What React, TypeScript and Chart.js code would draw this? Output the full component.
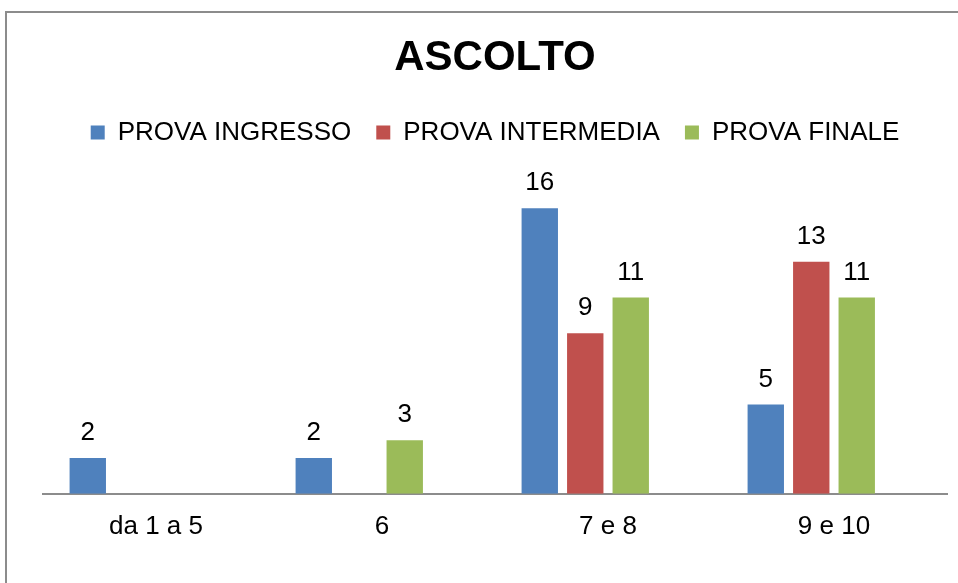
import React, { useEffect, useRef } from "react";
import { Chart, registerables } from "chart.js";

Chart.register(...registerables);

const TITLE = "ASCOLTO";
const CATEGORIES = ["da 1 a 5", "6", "7 e 8", "9 e 10"];
const SERIES_NAMES = ["PROVA INGRESSO", "PROVA INTERMEDIA", "PROVA FINALE"];
const PROVA_INGRESSO: (number | null)[] = [2, 2, 16, 5];
const PROVA_INTERMEDIA: (number | null)[] = [null, null, 9, 13];
const PROVA_FINALE: (number | null)[] = [null, 3, 11, 11];
const EMPTY_SERIES: (number | null)[] = [null, null, null, null];
const COLORS = ["#4F81BD", "#C0504D", "#9BBB59"];
const FONT = "'Liberation Sans', Arial, sans-serif";
const LEGEND_EXTRA_BOTTOM = 17;

const borderPlugin = {
  id: "outerBorder",
  beforeUpdate(chart: any) {
    const legend = chart.legend;
    if (legend && !legend.__patched) {
      const orig = legend.fit;
      legend.fit = function (this: any) {
        orig.call(this);
        this.height += LEGEND_EXTRA_BOTTOM;
      };
      legend.__patched = true;
    }
  },
  beforeDraw(chart: any) {
    const ctx = chart.ctx;
    ctx.save();
    ctx.fillStyle = "#ffffff";
    ctx.fillRect(0, 0, chart.width, chart.height);
    ctx.strokeStyle = "#8c8c8c";
    ctx.lineWidth = 2;
    ctx.strokeRect(6, 12, chart.width + 50, chart.height + 50);
    ctx.restore();
  },
};

const labelPlugin = {
  id: "valueLabels",
  afterDatasetsDraw(chart: any) {
    const ctx = chart.ctx;
    ctx.save();
    ctx.font = `26px ${FONT}`;
    ctx.fillStyle = "#000000";
    ctx.textAlign = "center";
    ctx.textBaseline = "middle";
    chart.data.datasets.forEach((ds: any, i: number) => {
      const meta = chart.getDatasetMeta(i);
      meta.data.forEach((bar: any, j: number) => {
        const v = ds.data[j];
        if (v === null || v === undefined) return;
        ctx.fillText(String(v), bar.x, bar.y - 25);
      });
    });
    ctx.restore();
  },
};

export default function App() {
  const ref = useRef<HTMLCanvasElement>(null);
  useEffect(() => {
    if (!ref.current) return;
    const chart = new Chart(ref.current, {
      type: "bar",
      data: {
        labels: CATEGORIES,
        datasets: [
          { label: SERIES_NAMES[0], data: PROVA_INGRESSO, backgroundColor: COLORS[0] },
          { label: SERIES_NAMES[1], data: PROVA_INTERMEDIA, backgroundColor: COLORS[1] },
          { label: SERIES_NAMES[2], data: PROVA_FINALE, backgroundColor: COLORS[2] },
          { label: "", data: EMPTY_SERIES, backgroundColor: "rgba(0,0,0,0)" },
        ],
      },
      options: {
        animation: false,
        responsive: false,
        devicePixelRatio: 1,
        categoryPercentage: 0.805,
        barPercentage: 0.8,
        layout: { padding: { top: 20, left: 43, right: 11, bottom: 24 } },
        plugins: {
          title: {
            display: true,
            text: TITLE,
            color: "#000000",
            font: { family: FONT, size: 42, weight: "bold", lineHeight: 0.8 },
            padding: { top: 22, bottom: 19 },
          },
          legend: {
            display: true,
            position: "top",
            labels: {
              color: "#000000",
              font: { family: FONT, size: 26, lineHeight: 64 / 26 },
              boxWidth: 14,
              boxHeight: 14,
              padding: 25,
              filter: (item: any) => item.text !== "",
            },
          },
          tooltip: { enabled: false },
        },
        scales: {
          x: {
            grid: { display: false, drawTicks: false },
            border: { display: true, color: "#8c8c8c", width: 2 },
            ticks: { color: "#000000", font: { family: FONT, size: 26 }, padding: 17 },
          },
          y: {
            display: false,
            min: 0,
            max: 18,
          },
        },
      },
      plugins: [borderPlugin, labelPlugin],
    });
    return () => chart.destroy();
  }, []);
  return (
    <canvas
      ref={ref}
      width={958}
      height={583}
      style={{ position: "absolute", left: 0, top: 0, width: 958, height: 583 }}
    />
  );
}
